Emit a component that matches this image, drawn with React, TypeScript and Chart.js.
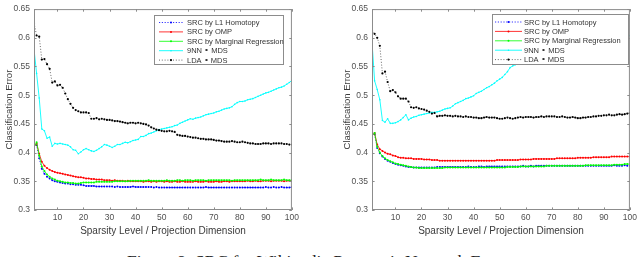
import React, { useEffect, useRef } from "react";
import { Chart, registerables } from "chart.js";

Chart.register(...registerables);

// ---------------- data ----------------
const xValues: number[] = Array.from({ length: 100 }, (_, i) => i + 1);
const xTicks = [10, 20, 30, 40, 50, 60, 70, 80, 90, 100];
const yTicks = [0.3, 0.35, 0.4, 0.45, 0.5, 0.55, 0.6, 0.65];
const seriesNames = [
  "SRC by L1 Homotopy",
  "SRC by OMP",
  "SRC by Marginal Regression",
  "9NN \u2218 MDS",
  "LDA \u2218 MDS",
];
const xTitle = "Sparsity Level / Projection Dimension";
const yTitle = "Classification Error";
const caption = "Figure 8: SRC for Wikipedia Page-pair Network Errors";

// left panel
const leftL1 = [
  0.409, 0.413, 0.390, 0.372, 0.363, 0.358, 0.355, 0.352, 0.350, 0.349,
  0.348, 0.347, 0.346, 0.346, 0.345, 0.345, 0.344, 0.344, 0.344, 0.343,
  0.342, 0.342, 0.342, 0.342, 0.341, 0.341, 0.341, 0.341, 0.341, 0.341,
  0.341, 0.340, 0.341, 0.340, 0.340, 0.340, 0.340, 0.340, 0.341, 0.340,
  0.340, 0.340, 0.340, 0.340, 0.340, 0.340, 0.339, 0.340, 0.339, 0.339,
  0.339, 0.339, 0.339, 0.339, 0.339, 0.339, 0.339, 0.339, 0.339, 0.339,
  0.339, 0.339, 0.339, 0.339, 0.339, 0.339, 0.340, 0.339, 0.339, 0.339,
  0.339, 0.339, 0.339, 0.339, 0.339, 0.339, 0.339, 0.339, 0.339, 0.339,
  0.339, 0.339, 0.339, 0.339, 0.339, 0.339, 0.339, 0.339, 0.339, 0.340,
  0.339, 0.339, 0.340, 0.339, 0.339, 0.340, 0.339, 0.339, 0.339, 0.340,
];
const leftOMP = [
  0.410, 0.416, 0.398, 0.384, 0.377, 0.373, 0.370, 0.368, 0.366, 0.365,
  0.364, 0.363, 0.362, 0.361, 0.360, 0.359, 0.358, 0.357, 0.357, 0.356,
  0.355, 0.355, 0.354, 0.354, 0.353, 0.353, 0.353, 0.352, 0.352, 0.352,
  0.351, 0.352, 0.351, 0.351, 0.351, 0.350, 0.351, 0.350, 0.350, 0.350,
  0.350, 0.350, 0.349, 0.350, 0.350, 0.349, 0.350, 0.349, 0.350, 0.350,
  0.349, 0.350, 0.349, 0.349, 0.350, 0.349, 0.349, 0.350, 0.349, 0.349,
  0.349, 0.349, 0.350, 0.349, 0.349, 0.349, 0.350, 0.349, 0.349, 0.349,
  0.350, 0.349, 0.349, 0.350, 0.350, 0.349, 0.350, 0.350, 0.350, 0.350,
  0.350, 0.350, 0.351, 0.350, 0.350, 0.351, 0.350, 0.350, 0.351, 0.351,
  0.351, 0.350, 0.351, 0.351, 0.351, 0.351, 0.350, 0.351, 0.351, 0.351,
];
const leftMR = [
  0.409, 0.418, 0.395, 0.376, 0.368, 0.362, 0.358, 0.355, 0.353, 0.351,
  0.350, 0.349, 0.348, 0.348, 0.347, 0.347, 0.346, 0.346, 0.347, 0.348,
  0.348, 0.348, 0.348, 0.348, 0.349, 0.349, 0.349, 0.349, 0.349, 0.349,
  0.349, 0.350, 0.350, 0.350, 0.350, 0.350, 0.350, 0.351, 0.351, 0.351,
  0.351, 0.351, 0.351, 0.351, 0.352, 0.351, 0.351, 0.351, 0.351, 0.351,
  0.351, 0.352, 0.351, 0.351, 0.351, 0.352, 0.352, 0.351, 0.352, 0.352,
  0.352, 0.351, 0.352, 0.352, 0.352, 0.352, 0.351, 0.352, 0.352, 0.352,
  0.352, 0.352, 0.352, 0.352, 0.352, 0.352, 0.351, 0.352, 0.352, 0.352,
  0.352, 0.352, 0.352, 0.352, 0.352, 0.352, 0.352, 0.353, 0.352, 0.352,
  0.352, 0.353, 0.352, 0.352, 0.352, 0.352, 0.353, 0.352, 0.352, 0.352,
];
const leftNN = [
  0.580, 0.538, 0.495, 0.441, 0.438, 0.425, 0.427, 0.411, 0.416, 0.415,
  0.416, 0.415, 0.414, 0.413, 0.410, 0.405, 0.404, 0.398, 0.401, 0.405,
  0.407, 0.405, 0.403, 0.402, 0.404, 0.407, 0.410, 0.414, 0.413, 0.411,
  0.409, 0.411, 0.414, 0.414, 0.416, 0.418, 0.417, 0.419, 0.421, 0.422,
  0.423, 0.428, 0.428, 0.430, 0.433, 0.434, 0.436, 0.438, 0.440, 0.441,
  0.442, 0.443, 0.444, 0.445, 0.447, 0.448, 0.451, 0.453, 0.455, 0.457,
  0.459, 0.458, 0.460, 0.461, 0.462, 0.464, 0.466, 0.467, 0.468, 0.469,
  0.471, 0.472, 0.474, 0.476, 0.477, 0.478, 0.480, 0.484, 0.487, 0.489,
  0.489, 0.490, 0.492, 0.493, 0.494, 0.496, 0.498, 0.500, 0.502, 0.504,
  0.505, 0.507, 0.509, 0.511, 0.513, 0.514, 0.516, 0.519, 0.522, 0.526,
];
const leftLDA = [
  0.626, 0.604, 0.602, 0.562, 0.563, 0.554, 0.546, 0.522, 0.524, 0.517,
  0.518, 0.513, 0.503, 0.493, 0.485, 0.478, 0.474, 0.472, 0.470, 0.470,
  0.470, 0.469, 0.459, 0.459, 0.460, 0.458, 0.459, 0.458, 0.457, 0.457,
  0.456, 0.455, 0.455, 0.454, 0.453, 0.452, 0.451, 0.452, 0.452, 0.451,
  0.452, 0.451, 0.450, 0.449, 0.447, 0.444, 0.442, 0.440, 0.439, 0.438,
  0.437, 0.437, 0.438, 0.437, 0.436, 0.431, 0.430, 0.429, 0.429, 0.428,
  0.427, 0.426, 0.426, 0.425, 0.424, 0.424, 0.423, 0.423, 0.423, 0.422,
  0.421, 0.421, 0.420, 0.419, 0.419, 0.419, 0.420, 0.419, 0.418, 0.418,
  0.419, 0.418, 0.417, 0.416, 0.416, 0.415, 0.415, 0.415, 0.416, 0.416,
  0.416, 0.415, 0.416, 0.416, 0.416, 0.416, 0.415, 0.415, 0.414, 0.414,
];

// right panel
const rightL1 = [
  0.430, 0.432, 0.408, 0.399, 0.393, 0.389, 0.386, 0.384, 0.382, 0.380,
  0.379, 0.378, 0.377, 0.376, 0.375, 0.375, 0.374, 0.374, 0.374, 0.374,
  0.374, 0.374, 0.374, 0.374, 0.374, 0.375, 0.375, 0.375, 0.375, 0.375,
  0.375, 0.375, 0.375, 0.375, 0.375, 0.375, 0.375, 0.376, 0.375, 0.375,
  0.375, 0.376, 0.376, 0.375, 0.376, 0.376, 0.376, 0.376, 0.376, 0.376,
  0.376, 0.376, 0.376, 0.376, 0.376, 0.376, 0.376, 0.376, 0.377, 0.376,
  0.376, 0.377, 0.376, 0.377, 0.377, 0.377, 0.377, 0.377, 0.377, 0.377,
  0.377, 0.377, 0.377, 0.377, 0.377, 0.377, 0.377, 0.377, 0.377, 0.377,
  0.377, 0.377, 0.377, 0.377, 0.377, 0.377, 0.377, 0.377, 0.377, 0.377,
  0.377, 0.377, 0.377, 0.378, 0.377, 0.377, 0.377, 0.378, 0.377, 0.377,
];
const rightOMP = [
  0.430, 0.434, 0.414, 0.406, 0.403, 0.400, 0.398, 0.397, 0.395, 0.394,
  0.392, 0.391, 0.391, 0.390, 0.390, 0.390, 0.389, 0.389, 0.389, 0.389,
  0.388, 0.388, 0.388, 0.387, 0.387, 0.387, 0.386, 0.386, 0.386, 0.386,
  0.386, 0.386, 0.386, 0.386, 0.386, 0.386, 0.386, 0.386, 0.386, 0.386,
  0.386, 0.386, 0.386, 0.386, 0.386, 0.386, 0.386, 0.386, 0.387, 0.387,
  0.387, 0.387, 0.387, 0.387, 0.387, 0.387, 0.387, 0.388, 0.388, 0.388,
  0.388, 0.388, 0.389, 0.389, 0.389, 0.389, 0.389, 0.389, 0.389, 0.389,
  0.389, 0.390, 0.390, 0.390, 0.390, 0.390, 0.390, 0.390, 0.390, 0.391,
  0.391, 0.391, 0.391, 0.391, 0.391, 0.392, 0.392, 0.392, 0.392, 0.392,
  0.392, 0.392, 0.393, 0.393, 0.393, 0.393, 0.393, 0.393, 0.393, 0.393,
];
const rightMR = [
  0.430, 0.434, 0.410, 0.400, 0.394, 0.390, 0.387, 0.385, 0.383, 0.381,
  0.380, 0.379, 0.378, 0.377, 0.376, 0.375, 0.374, 0.374, 0.373, 0.373,
  0.373, 0.373, 0.373, 0.373, 0.373, 0.373, 0.373, 0.373, 0.374, 0.374,
  0.374, 0.374, 0.374, 0.374, 0.374, 0.374, 0.374, 0.374, 0.374, 0.374,
  0.374, 0.374, 0.374, 0.374, 0.374, 0.374, 0.374, 0.374, 0.374, 0.374,
  0.374, 0.374, 0.375, 0.375, 0.375, 0.375, 0.375, 0.376, 0.376, 0.376,
  0.376, 0.376, 0.376, 0.376, 0.376, 0.376, 0.376, 0.377, 0.377, 0.377,
  0.377, 0.377, 0.377, 0.377, 0.377, 0.377, 0.377, 0.377, 0.377, 0.377,
  0.377, 0.377, 0.378, 0.378, 0.378, 0.378, 0.378, 0.378, 0.378, 0.378,
  0.378, 0.378, 0.378, 0.379, 0.379, 0.379, 0.379, 0.380, 0.380, 0.380,
];
const rightNN = [
  0.593, 0.525, 0.510, 0.492, 0.456, 0.453, 0.459, 0.451, 0.451, 0.452,
  0.454, 0.457, 0.461, 0.466, 0.457, 0.460, 0.462, 0.463, 0.465, 0.466,
  0.467, 0.468, 0.469, 0.470, 0.470, 0.471, 0.472, 0.474, 0.476, 0.477,
  0.478, 0.481, 0.485, 0.487, 0.489, 0.491, 0.494, 0.495, 0.497, 0.499,
  0.503, 0.505, 0.507, 0.510, 0.513, 0.515, 0.518, 0.521, 0.525, 0.528,
  0.531, 0.536, 0.541, 0.548, 0.551, 0.553, 0.555, 0.557, 0.559, 0.561,
  0.563, 0.564, 0.566, 0.567, 0.569, 0.570, 0.571, 0.573, 0.574, 0.575,
  0.577, 0.578, 0.579, 0.580, 0.581, 0.582, 0.583, 0.584, 0.585, 0.586,
  0.587, 0.588, 0.589, 0.590, 0.591, 0.592, 0.593, 0.594, 0.594, 0.595,
  0.596, 0.597, 0.597, 0.598, 0.599, 0.600, 0.600, 0.601, 0.602, 0.604,
];
const rightLDA = [
  0.613, 0.607, 0.600, 0.586, 0.538, 0.541, 0.523, 0.507, 0.509, 0.505,
  0.498, 0.494, 0.494, 0.494, 0.489, 0.479, 0.478, 0.479, 0.477, 0.476,
  0.475, 0.473, 0.471, 0.468, 0.469, 0.463, 0.464, 0.464, 0.465, 0.464,
  0.464, 0.463, 0.464, 0.463, 0.463, 0.462, 0.463, 0.462, 0.462, 0.461,
  0.461, 0.460, 0.460, 0.461, 0.462, 0.461, 0.461, 0.461, 0.460, 0.459,
  0.459, 0.460, 0.461, 0.460, 0.459, 0.460, 0.461, 0.462, 0.461, 0.462,
  0.462, 0.462, 0.461, 0.462, 0.462, 0.463, 0.462, 0.463, 0.463, 0.463,
  0.463, 0.462, 0.462, 0.463, 0.462, 0.461, 0.461, 0.462, 0.461, 0.460,
  0.460, 0.461, 0.461, 0.462, 0.462, 0.463, 0.463, 0.464, 0.464, 0.465,
  0.465, 0.466, 0.465, 0.465, 0.466, 0.467, 0.466, 0.467, 0.468, 0.469,
];

// ---------------- styles ----------------
const FONT = "'Liberation Sans', Arial, Helvetica, sans-serif";
const FRAME = "#8c8c8c";
const TICK_TEXT = "#505050";
const TITLE_TEXT = "#3a3a3a";

const seriesStyles = [
  { color: "#0000ff", dash: [1.2, 1.6], width: 0.8, radius: 1.0 },
  { color: "#ff0000", dash: [], width: 0.8, radius: 1.0 },
  { color: "#00ff00", dash: [], width: 0.8, radius: 1.0 },
  { color: "#00ffff", dash: [], width: 0.9, radius: 0.8 },
  { color: "#000000", dash: [1, 1.8], width: 0.6, radius: 1.1 },
];

const CANVAS_W = 302;
const CANVAS_H = 240;

const framePlugin = {
  id: "matlabFrame",
  afterDatasetsDraw(chart: any) {
    const { ctx, chartArea: a, scales } = chart;
    ctx.save();
    ctx.strokeStyle = FRAME;
    ctx.lineWidth = 1;
    ctx.setLineDash([]);
    ctx.strokeRect(a.left + 0.5, a.top + 0.5, a.right - a.left - 1, a.bottom - a.top - 1);
    const tl = 2.6;
    ctx.beginPath();
    xTicks.forEach((v) => {
      const px = Math.round(scales.x.getPixelForValue(v)) + 0.5;
      ctx.moveTo(px, a.bottom);
      ctx.lineTo(px, a.bottom - tl);
      ctx.moveTo(px, a.top);
      ctx.lineTo(px, a.top + tl);
    });
    yTicks.forEach((v) => {
      const py = Math.round(scales.y.getPixelForValue(v)) + 0.5;
      ctx.moveTo(a.left, py);
      ctx.lineTo(a.left + tl, py);
      ctx.moveTo(a.right, py);
      ctx.lineTo(a.right - tl, py);
    });
    ctx.stroke();
    ctx.restore();
  },
};

const legendPlugin = {
  id: "boxLegend",
  afterDraw(chart: any, _args: any, opts: any) {
    const L = opts.box;
    if (!L) return;
    const { ctx } = chart;
    ctx.save();
    ctx.fillStyle = "#ffffff";
    ctx.fillRect(L.left, L.top, L.right - L.left, L.bottom - L.top);
    ctx.strokeStyle = FRAME;
    ctx.lineWidth = 1;
    ctx.setLineDash([]);
    ctx.strokeRect(L.left + 0.5, L.top + 0.5, L.right - L.left - 1, L.bottom - L.top - 1);
    chart.data.datasets.forEach((ds: any, i: number) => {
      const y = L.firstY + i * L.step;
      ctx.setLineDash(ds.borderDash || []);
      ctx.strokeStyle = ds.borderColor;
      ctx.lineWidth = ds.borderWidth;
      ctx.beginPath();
      ctx.moveTo(L.lineX1, y);
      ctx.lineTo(L.lineX2, y);
      ctx.stroke();
      ctx.setLineDash([]);
      ctx.fillStyle = ds.pointBackgroundColor;
      ctx.beginPath();
      ctx.arc((L.lineX1 + L.lineX2) / 2, y, ds.pointRadius, 0, Math.PI * 2);
      ctx.fill();
      ctx.fillStyle = "#333333";
      ctx.font = `7.5px ${FONT}`;
      ctx.textBaseline = "middle";
      ctx.textAlign = "left";
      ctx.fillText(ds.label, L.textX, y + 0.5);
    });
    ctx.restore();
  },
};

type PanelProps = {
  series: number[][];
  legendBox: any;
};

function Panel({ series, legendBox }: PanelProps) {
  const ref = useRef<HTMLCanvasElement | null>(null);
  useEffect(() => {
    if (!ref.current) return;
    const chart = new Chart(ref.current, {
      type: "line",
      data: {
        datasets: series.map((vals, i) => ({
          label: seriesNames[i],
          data: vals.map((y, j) => ({ x: xValues[j], y })),
          borderColor: seriesStyles[i].color,
          borderDash: seriesStyles[i].dash,
          borderWidth: seriesStyles[i].width,
          pointRadius: seriesStyles[i].radius,
          pointBackgroundColor: seriesStyles[i].color,
          pointBorderWidth: 0,
          pointHoverRadius: 0,
          tension: 0,
          fill: false,
          order: 10 - i,
        })),
      },
      options: {
        responsive: false,
        animation: false,
        devicePixelRatio: 1,
        events: [],
        layout: { padding: { top: 6, right: 9, left: 0, bottom: 0 } },
        plugins: {
          legend: { display: false },
          tooltip: { enabled: false },
          boxLegend: { box: legendBox },
        } as any,
        scales: {
          x: {
            type: "linear",
            min: 1,
            max: 100,
            afterBuildTicks: (s: any) => {
              s.ticks = xTicks.map((v) => ({ value: v }));
            },
            afterFit: (s: any) => {
              s.height = CANVAS_H - 210;
            },
            grid: { display: false, drawTicks: false },
            border: { display: false },
            ticks: {
              padding: 3,
              autoSkip: false,
              maxRotation: 0,
              color: TICK_TEXT,
              font: { family: FONT, size: 8.5 },
              callback: (v: any) => String(v),
            },
            title: {
              display: true,
              text: xTitle,
              color: TITLE_TEXT,
              font: { family: FONT, size: 10 },
              padding: { top: 0, bottom: 3 },
            },
          },
          y: {
            type: "linear",
            min: 0.3,
            max: 0.65,
            afterBuildTicks: (s: any) => {
              s.ticks = yTicks.map((v) => ({ value: v }));
            },
            afterFit: (s: any) => {
              s.width = 34;
            },
            grid: { display: false, drawTicks: false },
            border: { display: false },
            ticks: {
              padding: 4,
              autoSkip: false,
              color: TICK_TEXT,
              font: { family: FONT, size: 8.5 },
              callback: (v: any) => String(Number(Number(v).toFixed(2))),
            },
            title: {
              display: true,
              text: yTitle,
              color: TITLE_TEXT,
              font: { family: FONT, size: 9.5 },
              padding: { top: 4, bottom: 0 },
            },
          },
        },
      },
      plugins: [framePlugin, legendPlugin],
    } as any);
    return () => chart.destroy();
  }, []);
  return (
    <canvas
      ref={ref}
      width={CANVAS_W}
      height={CANVAS_H}
      style={{ width: CANVAS_W, height: CANVAS_H, display: "block" }}
    />
  );
}

export default function App() {
  const leftLegend = { left: 154, top: 15, right: 284, bottom: 65, firstY: 22.5, step: 9.4, lineX1: 159, lineX2: 183, textX: 187 };
  const rightLegend = { left: 154, top: 14, right: 291, bottom: 65, firstY: 22, step: 9.4, lineX1: 157, lineX2: 184, textX: 186 };
  return (
    <div style={{ position: "fixed", left: 0, top: 0, width: 640, height: 257, overflow: "hidden", background: "#fff" }}>
      <div style={{ position: "absolute", left: 0, top: 0 }}>
        <Panel series={[leftL1, leftOMP, leftMR, leftNN, leftLDA]} legendBox={leftLegend} />
      </div>
      <div style={{ position: "absolute", left: 338, top: 0 }}>
        <Panel series={[rightL1, rightOMP, rightMR, rightNN, rightLDA]} legendBox={rightLegend} />
      </div>
      <div
        style={{
          position: "absolute",
          left: 127,
          top: 250.5,
          whiteSpace: "nowrap",
          fontFamily: "'Liberation Serif', 'Times New Roman', serif",
          fontSize: 17.5,
          lineHeight: "20px",
          color: "#222",
        }}
      >
        {caption}
      </div>
    </div>
  );
}
